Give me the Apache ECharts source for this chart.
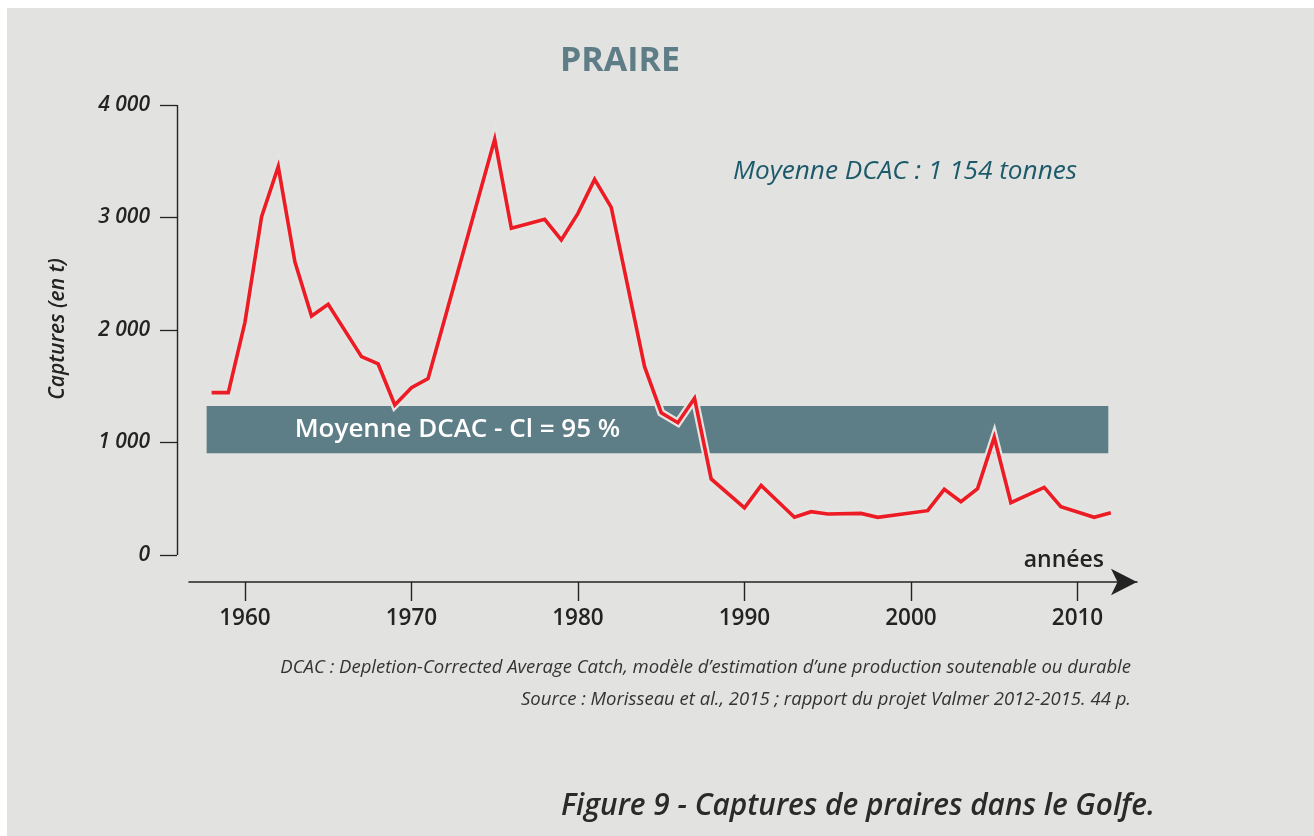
<!DOCTYPE html>
<html>
<head>
<meta charset="utf-8">
<script src="https://cdn.jsdelivr.net/npm/echarts@6/dist/echarts.min.js"></script>
<style>
  html, body { margin: 0; padding: 0; background: #ffffff; }
  #chart { width: 1314px; height: 836px; }
</style>
</head>
<body>
<div id="chart"></div>
<script>
// ---- data ----
const years = [1958, 1959, 1960, 1961, 1962, 1963, 1964, 1965, 1967, 1968, 1969, 1970, 1971,
  1975, 1976, 1978, 1979, 1980, 1981, 1982, 1984, 1985, 1986, 1987, 1988, 1990, 1991,
  1993, 1994, 1995, 1997, 1998, 2001, 2002, 2003, 2004, 2005, 2006, 2008, 2009, 2011, 2012];
const catches = [1443, 1443, 2068, 3007, 3452, 2607, 2124, 2228, 1763, 1698, 1333, 1487, 1568,
  3695, 2904, 2984, 2800, 3037, 3339, 3090, 1674, 1265, 1176, 1393, 676, 420, 619,
  335, 385, 364, 370, 335, 394, 584, 474, 590, 1046, 465, 601, 430, 335, 376];
const bandYears = [1957.7, 2011.85];
const bandValues = [904, 1324];
const xTickYears = [1960, 1970, 1980, 1990, 2000, 2010];
const yTickValues = [0, 1000, 2000, 3000, 4000];
const yTickLabels = ['0', '1 000', '2 000', '3 000', '4 000'];

const points = years.map((y, i) => [y, catches[i]]);
const BG = '#e2e2e0';
const DARK = '#232323';
const X_MIN = 1955.92, X_MAX = 2014;
const Y_MIN = -420, Y_MAX = 4000;     // room below zero for the offset year axis
const X_AXIS_LEVEL = -240;            // where the year axis line sits (value units)
const X_TICK_DEPTH = 169;             // tick length in value units (~19 px)

const axisMarks = [
  // vertical value axis line, from 0 to the top tick
  [{ coord: [X_MIN, yTickValues[0]] }, { coord: [X_MIN, yTickValues[yTickValues.length - 1]] }]
].concat(xTickYears.map(y => [
  { coord: [y, X_AXIS_LEVEL] }, { coord: [y, X_AXIS_LEVEL - X_TICK_DEPTH] }
]));

const chart = echarts.init(document.getElementById('chart'), null, { renderer: 'canvas' });
chart.setOption({
  backgroundColor: '#ffffff',
  animation: false,
  grid: [
    { left: 177, right: 169.9, top: 105, bottom: 233.75 }, // data (x 177..1144.1, y 105..602.25)
    { left: 189, right: 177, top: 105, bottom: 254 }       // arrow axis line (x 189..1137, y 582)
  ],
  xAxis: [
    {
      type: 'value', gridIndex: 0, min: X_MIN, max: X_MAX,
      axisLine: { show: false, onZero: false },
      splitLine: { show: false },
      axisTick: { show: false },
      axisLabel: { show: true, customValues: xTickYears, margin: 5, color: DARK,
        fontFamily: 'Open Sans', fontWeight: 600, fontSize: 22.5,
        formatter: v => String(v) }
    },
    {
      type: 'value', gridIndex: 1, min: 0, max: 1,
      axisLine: { show: true, onZero: false, symbol: ['none', 'arrow'], symbolSize: [20, 26],
        lineStyle: { color: DARK, width: 1.6 } },
      axisTick: { show: false }, axisLabel: { show: false }, splitLine: { show: false }
    }
  ],
  yAxis: [
    {
      type: 'value', gridIndex: 0, min: Y_MIN, max: Y_MAX,
      axisLine: { show: false, onZero: false },
      axisTick: { show: true, customValues: yTickValues, length: 17, inside: false,
        lineStyle: { color: DARK, width: 1.3 } },
      splitLine: { show: false },
      axisLabel: { show: true, customValues: yTickValues, margin: 27, color: DARK,
        fontFamily: 'Open Sans', fontStyle: 'italic', fontWeight: 600, fontSize: 21,
        verticalAlign: 'middle',
        formatter: v => yTickLabels[yTickValues.indexOf(v)] }
    },
    { type: 'value', gridIndex: 1, show: false, min: 0, max: 1 }
  ],
  graphic: [
    { type: 'rect', z: -10, silent: true,
      shape: { x: 7, y: 8, width: 1314, height: 836 }, style: { fill: BG } },
    { type: 'text', z: 10, x: 620, y: 61,
      style: { text: 'PRAIRE', font: 'bold 34px "Open Sans"', fill: '#5e7d87',
        textAlign: 'center', textVerticalAlign: 'middle' } },
    { type: 'text', z: 10, x: 58, y: 329, rotation: Math.PI / 2,
      style: { text: 'Captures (en t)', font: 'italic 600 21px "Open Sans"', fill: DARK,
        textAlign: 'center', textVerticalAlign: 'middle' } },
    { type: 'text', z: 10, x: 733, y: 172,
      style: { text: 'Moyenne DCAC : 1 154 tonnes', font: 'italic 26.2px "Open Sans"', fill: '#1c5a6b',
        textAlign: 'left', textVerticalAlign: 'middle' } },
    { type: 'text', z: 10, x: 1104, y: 560,
      style: { text: 'années', font: '600 23px "Open Sans"', fill: DARK,
        textAlign: 'right', textVerticalAlign: 'middle' } },
    { type: 'text', z: 10, x: 1131, y: 668,
      style: { text: 'DCAC : Depletion-Corrected Average Catch, modèle d’estimation d’une production soutenable ou durable',
        font: 'italic 18.5px "Open Sans"', fill: '#333333', textAlign: 'right', textVerticalAlign: 'middle' } },
    { type: 'text', z: 10, x: 1131, y: 700,
      style: { text: 'Source : Morisseau et al., 2015 ; rapport du projet Valmer 2012-2015. 44 p.',
        font: 'italic 18.5px "Open Sans"', fill: '#333333', textAlign: 'right', textVerticalAlign: 'middle' } },
    { type: 'text', z: 10, x: 1155, y: 807,
      style: { text: 'Figure 9 - Captures de praires dans le Golfe.',
        font: 'italic 600 29.8px "Open Sans"', fill: '#2a2a2a', textAlign: 'right', textVerticalAlign: 'middle' } }
  ],
  series: [
    {
      type: 'line', xAxisIndex: 0, yAxisIndex: 0, z: 1, silent: true, clip: false,
      data: points, symbol: 'none', lineStyle: { opacity: 0 },
      markArea: {
        silent: true,
        itemStyle: { color: '#5e7e87', opacity: 1 },
        label: { show: true, position: [88, '50%'], verticalAlign: 'middle', align: 'left',
          color: '#ffffff', fontFamily: 'Open Sans', fontWeight: 600, fontSize: 26 },
        data: [[
          { name: 'Moyenne DCAC - Cl = 95 %', xAxis: bandYears[0], yAxis: bandValues[0] },
          { xAxis: bandYears[1], yAxis: bandValues[1] }
        ]]
      },
      markLine: {
        silent: true, symbol: 'none', animation: false,
        label: { show: false },
        lineStyle: { color: DARK, width: 1.4, type: 'solid' },
        data: axisMarks
      }
    },
    {
      type: 'line', xAxisIndex: 0, yAxisIndex: 0, z: 3, silent: true,
      data: points, symbol: 'none',
      lineStyle: { color: '#e4e4e2', width: 8, join: 'miter', miterLimit: 20 }
    },
    {
      type: 'line', xAxisIndex: 0, yAxisIndex: 0, z: 4, silent: true,
      data: points, symbol: 'none',
      lineStyle: { color: '#ed1c24', width: 3.6, join: 'miter', miterLimit: 20 }
    }
  ]
});
</script>
</body>
</html>
